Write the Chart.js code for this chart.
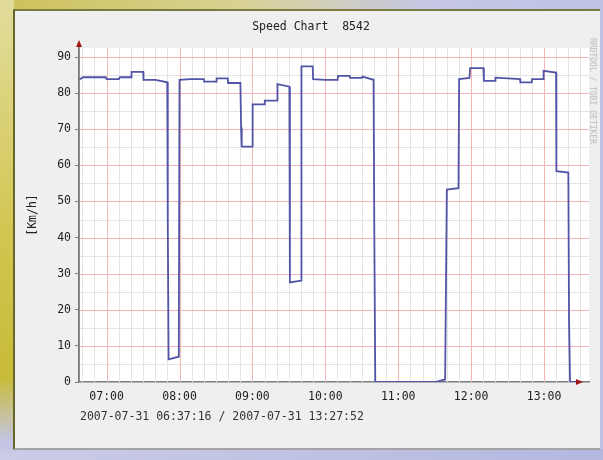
<!DOCTYPE html>
<html>
<head>
<meta charset="utf-8">
<script src="https://cdn.jsdelivr.net/npm/chart.js@4.4.1/dist/chart.umd.min.js"></script>
<style>
  html, body { margin: 0; padding: 0; }
  body {
    width: 603px; height: 460px; position: relative; overflow: hidden;
    background: linear-gradient(90deg, #cdc158 0%, #d8d294 40%, #c6c8e4 70%, #bec2e6 100%);
  }
  #leftStrip {
    position: absolute; left: 0; top: 0; width: 14px; height: 460px;
    background: linear-gradient(180deg, #e2dc9c 0%, #d2c652 50%, #c8bb38 82%, #c4c6e4 96%);
  }
  #bottomStrip {
    position: absolute; left: 0; top: 449px; width: 603px; height: 11px;
    background: linear-gradient(90deg, #cacce6, #b4b8e0);
  }
  #panel {
    position: absolute; left: 13px; top: 9px; width: 587px; height: 441px;
    background: #efefef; box-sizing: border-box;
    border-left: 2px solid #66652a; border-top: 2px solid #7a7940; border-bottom: 2px solid #a4a4a4;
  }
  canvas { position: absolute; left: 0; top: 0; }
  #title {
    position: absolute; left: 0; width: 622px; top: 19px; text-align: center;
    font: 11.5px "DejaVu Sans Mono", monospace; color: #222; white-space: pre;
  }
  #period {
    position: absolute; left: 80px; top: 409px;
    font: 11.5px "DejaVu Sans Mono", monospace; color: #333;
  }
  #mark {
    position: absolute; left: 597px; top: 38px; transform: rotate(90deg); transform-origin: left top;
    font: 8px "DejaVu Sans Mono", monospace; color: #bcbcbc; white-space: nowrap;
  }
</style>
</head>
<body>
<div id="leftStrip"></div>
<div id="bottomStrip"></div>
<div id="panel"></div>
<canvas id="speedChart" width="603" height="460"></canvas>
<div id="title">Speed Chart  8542</div>
<div id="period">2007-07-31 06:37:16 / 2007-07-31 13:27:52</div>
<div id="mark">RRDTOOL / TOBI OETIKER</div>
<script>
// Speed samples (time of day, km/h)
const times = [
    '06:37:16', '06:40:40', '06:59:10', '07:00:00', '07:10:06', '07:10:50', '07:20:18', '07:20:30',
    '07:30:10', '07:30:20', '07:40:16', '07:49:54', '07:50:20', '07:51:00', '07:59:24', '08:00:00',
    '08:09:00', '08:20:00', '08:20:20', '08:30:10', '08:30:30', '08:39:42', '08:40:00', '08:50:06',
    '08:50:40', '08:51:12', '08:59:48', '09:00:10', '09:09:54', '09:10:10', '09:20:18', '09:20:36',
    '09:30:24', '09:30:50', '09:40:00', '09:40:20', '09:49:36', '09:49:56', '10:00:00', '10:10:06',
    '10:10:26', '10:20:00', '10:20:20', '10:30:10', '10:30:30', '10:39:42', '10:40:18', '10:41:06',
    '11:30:24', '11:38:36', '11:40:00', '11:49:36', '11:50:08', '11:58:36', '11:59:10', '12:10:06',
    '12:10:30', '12:19:42', '12:20:00', '12:40:18', '12:40:30', '12:49:54', '12:50:10', '12:59:24',
    '12:59:40', '13:09:54', '13:10:10', '13:20:00', '13:20:34', '13:21:24', '13:27:52'
];
const speeds = [
    83.7, 84.4, 84.4, 83.9, 83.9, 84.4, 84.4, 85.9,
    85.9, 83.7, 83.7, 83.0, 44.5, 6.3, 7.0, 83.7,
    83.9, 83.9, 83.2, 83.2, 84.1, 84.1, 82.8, 82.8,
    70.5, 65.2, 65.2, 76.9, 76.9, 77.9, 77.9, 82.5,
    81.8, 27.6, 28.1, 87.4, 87.4, 83.9, 83.7, 83.7,
    84.8, 84.8, 84.2, 84.2, 84.6, 83.7, 41.8, 0,
    0, 0.7, 53.3, 53.7, 83.9, 84.2, 86.9, 86.9,
    83.4, 83.4, 84.3, 83.9, 83.0, 83.0, 83.9, 83.9,
    86.2, 85.7, 58.4, 58.0, 17.2, 0, 0
];
const hourLabels = ['07:00', '08:00', '09:00', '10:00', '11:00', '12:00', '13:00'];
const speedTicks = [0, 10, 20, 30, 40, 50, 60, 70, 80, 90];

const toMin = (s) => {
    const p = s.split(':').map(Number);
    return p[0] * 60 + p[1] + (p[2] || 0) / 60;
};

const startMin = toMin(times[0]);
const endMin = toMin('13:37:00');
const hourMins = hourLabels.map(toMin);

const redGrid = '#f2b6b6';
const greyGrid = '#e4e4e4';
const monoFont = { family: "'DejaVu Sans Mono', monospace", size: 11.5 };

// white plot background, both grids, axis arrows
const frame = {
    id: 'frame',
    beforeDraw(chart) {
        const a = chart.chartArea, c = chart.ctx;
        c.save();
        c.fillStyle = '#ffffff';
        c.fillRect(a.left, a.top, a.right - a.left, a.bottom - a.top);
        c.restore();
    },
    beforeDatasetsDraw(chart) {
        const a = chart.chartArea, c = chart.ctx;
        const xs = chart.scales.x, ys = chart.scales.y;
        c.save();
        c.lineWidth = 1;
        // minor lines first, major (red) lines on top
        [false, true].forEach((major) => {
            c.strokeStyle = major ? redGrid : greyGrid;
            c.beginPath();
            ys.ticks.forEach((t) => {
                if (speedTicks.includes(Math.round(t.value)) !== major || t.value === 0) return;
                const py = Math.round(ys.getPixelForValue(t.value)) + 0.5;
                c.moveTo(a.left, py);
                c.lineTo(a.right, py);
            });
            xs.ticks.forEach((t) => {
                if (hourMins.includes(Math.round(t.value)) !== major) return;
                const px = Math.round(xs.getPixelForValue(t.value)) + 0.5;
                c.moveTo(px, a.top);
                c.lineTo(px, a.bottom);
            });
            c.stroke();
        });
        c.restore();
    },
    afterDraw(chart) {
        const a = chart.chartArea, c = chart.ctx;
        c.save();
        c.strokeStyle = '#7c7c7c';
        c.lineWidth = 1.5;
        c.beginPath();
        c.moveTo(a.left, a.bottom);
        c.lineTo(a.left, a.top - 4);
        c.stroke();
        c.fillStyle = '#a01818';
        c.beginPath();
        c.moveTo(a.left, a.top - 8);
        c.lineTo(a.left - 3, a.top - 1);
        c.lineTo(a.left + 3, a.top - 1);
        c.fill();
        const rx = a.right - 6;
        c.beginPath();
        c.moveTo(rx, a.bottom);
        c.lineTo(rx - 7, a.bottom - 3);
        c.lineTo(rx - 7, a.bottom + 3);
        c.fill();
        c.restore();
    }
};

new Chart(document.getElementById('speedChart'), {
    type: 'line',
    data: {
        datasets: [{
            label: 'Speed',
            data: times.map((t, i) => ({ x: toMin(t), y: speeds[i] })),
            borderColor: '#5254a6',
            borderWidth: 1.8,
            pointRadius: 0,
            tension: 0,
            fill: false
        }]
    },
    options: {
        responsive: false,
        animation: false,
        layout: { padding: { left: 20, right: 14, top: 48, bottom: 0 } },
        plugins: {
            legend: { display: false },
            tooltip: { enabled: false },
            title: { display: false }
        },
        scales: {
            x: {
                type: 'linear',
                min: startMin,
                max: endMin,
                afterBuildTicks(scale) {
                    const t = [];
                    for (let v = 400; v < endMin; v += 10) t.push({ value: v });
                    scale.ticks = t;
                },
                afterFit(scale) { scale.height = 78; },
                border: { display: true, color: '#7c7c7c', width: 1.5 },
                grid: { drawOnChartArea: false, drawTicks: false },
                ticks: {
                    autoSkip: false,
                    maxRotation: 0,
                    padding: 8,
                    color: '#222',
                    font: monoFont,
                    callback: (v) => {
                        const i = hourMins.indexOf(Math.round(v));
                        return i >= 0 ? hourLabels[i] : '';
                    }
                }
            },
            y: {
                min: 0,
                max: 92.5,
                afterBuildTicks(scale) {
                    const t = [];
                    for (let v = 0; v <= 90; v += 5) t.push({ value: v });
                    scale.ticks = t;
                },
                afterFit(scale) { scale.width = 59; },
                border: { display: true, color: '#7c7c7c', width: 1.5 },
                grid: {
                    drawOnChartArea: false,
                    tickLength: 4,
                    tickColor: (ctx) => (ctx.tick && speedTicks.includes(Math.round(ctx.tick.value))) ? '#7c7c7c' : 'rgba(0,0,0,0)'
                },
                ticks: {
                    autoSkip: false,
                    padding: 4,
                    color: '#222',
                    font: monoFont,
                    callback: (v) => speedTicks.includes(Math.round(v)) ? String(Math.round(v)) : ''
                },
                title: {
                    display: true,
                    text: '[Km/h]',
                    color: '#222',
                    font: monoFont,
                    padding: { top: 6, bottom: 4 }
                }
            }
        }
    },
    plugins: [frame]
});
</script>
</body>
</html>
